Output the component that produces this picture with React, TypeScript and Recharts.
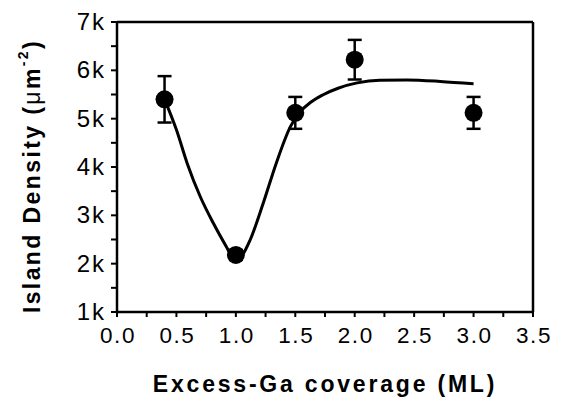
import React from 'react';
import {
  ComposedChart, Line, Scatter, ErrorBar, XAxis, YAxis, Label
} from 'recharts';

// measured points (coverage in ML, density in µm^-2)
const coverage = [0.4, 1.0, 1.5, 2.0, 3.0];
const density = [5400, 2180, 5120, 6220, 5120];
const densityErr = [480, 100, 330, 410, 330];

// fitted guide curve
const fitX = [0.4, 0.5, 0.59, 0.7, 0.81, 0.92, 0.97, 1.0, 1.05, 1.12, 1.23, 1.34, 1.46, 1.54, 1.63, 1.73, 1.86, 2.02, 2.21, 2.44, 2.72, 3.0];
const fitY = [5400, 4770, 4080, 3390, 2840, 2350, 2140, 2080, 2160, 2490, 3250, 4080, 4840, 5140, 5340, 5490, 5630, 5740, 5795, 5800, 5770, 5720];

const xTicks = [0, 0.25, 0.5, 0.75, 1, 1.25, 1.5, 1.75, 2, 2.25, 2.5, 2.75, 3, 3.25, 3.5];
const yTicks = [1000, 1500, 2000, 2500, 3000, 3500, 4000, 4500, 5000, 5500, 6000, 6500, 7000];

const points = coverage.map((x, i) => ({ x, y: density[i], err: densityErr[i] }));
const fit = fitX.map((x, i) => ({ x, y: fitY[i] }));

const FONT = '"Liberation Sans", Arial, Helvetica, sans-serif';

const fmtX = (v: number) => (Math.abs(v * 2 - Math.round(v * 2)) < 1e-6 ? v.toFixed(1) : '');
const fmtY = (v: number) => (v % 1000 === 0 ? `${v / 1000}k` : '');

const XTick = (p: any) => (
  <text x={p.x + 1} y={p.y} dy={16} textAnchor="middle" fontFamily={FONT} fontSize={22.5} letterSpacing={1.6} fill="#000">
    {fmtX(p.payload.value)}
  </text>
);

const YTick = (p: any) => (
  <text x={p.x + 2} y={p.y} dy={8} textAnchor="end" fontFamily={FONT} fontSize={24} letterSpacing={2} fill="#000">
    {fmtY(p.payload.value)}
  </text>
);

const YTitle = (props: any) => {
  const vb = props.viewBox || { x: 0, y: 22, width: 117, height: 290 };
  const cx = vb.x + 32;
  const cy = vb.y + vb.height / 2 + 9;
  return (
    <text
      x={cx}
      y={cy}
      transform={`rotate(-90, ${cx}, ${cy})`}
      textAnchor="middle"
      dominantBaseline="central"
      fontFamily={FONT}
      fontWeight="bold"
      fontSize={23}
      letterSpacing={2.4}
      fill="#000"
    >
      Island Density (<tspan fontWeight="normal">μ</tspan>m
      <tspan dy={-9} fontSize={14}>-2</tspan>
      <tspan dy={9}>)</tspan>
    </text>
  );
};

const Dot = (p: any) => <circle cx={p.cx} cy={p.cy} r={9} fill="#000" />;

export default function App() {
  return (
    <div style={{ width: 561, height: 398, background: '#fff' }}>
      <style>{'body{margin:0}'}</style>
      <ComposedChart width={561} height={398} margin={{ top: 22, right: 28, bottom: 11, left: 0 }}>
        <XAxis
          xAxisId="main"
          dataKey="x"
          type="number"
          domain={[0, 3.5]}
          allowDataOverflow
          ticks={xTicks}
          interval={0}
          height={75}
          tickSize={5}
          tickMargin={10}
          tick={<XTick />}
          stroke="#000"
          axisLine={{ stroke: '#000', strokeWidth: 2.5 }}
          tickLine={{ stroke: '#000', strokeWidth: 2 }}
        >
          <Label
            value="Excess-Ga coverage (ML)"
            position="insideBottom"
            offset={-5}
            style={{ fill: '#000', fontSize: 23, fontWeight: 'bold', fontFamily: FONT, letterSpacing: 2.8 }}
          />
        </XAxis>
        <XAxis
          xAxisId="top"
          orientation="top"
          type="number"
          domain={[0, 3.5]}
          allowDataOverflow
          ticks={xTicks}
          interval={0}
          mirror
          tick={false}
          tickSize={5}
          axisLine={{ stroke: '#000', strokeWidth: 2.5 }}
          tickLine={{ stroke: '#000', strokeWidth: 2 }}
        />
        <YAxis
          yAxisId="main"
          type="number"
          domain={[1000, 7000]}
          allowDataOverflow
          ticks={yTicks}
          interval={0}
          width={117}
          tickSize={6}
          tickMargin={7}
          tick={<YTick />}
          axisLine={{ stroke: '#000', strokeWidth: 2.5 }}
          tickLine={{ stroke: '#000', strokeWidth: 2 }}
        >
          <Label content={<YTitle />} />
        </YAxis>
        <YAxis
          yAxisId="right"
          orientation="right"
          type="number"
          domain={[1000, 7000]}
          allowDataOverflow
          ticks={yTicks}
          interval={0}
          mirror
          tick={false}
          tickSize={5}
          axisLine={{ stroke: '#000', strokeWidth: 2.5 }}
          tickLine={{ stroke: '#000', strokeWidth: 2 }}
        />
        <Line
          xAxisId="main"
          yAxisId="main"
          data={fit}
          dataKey="y"
          type="monotone"
          stroke="#000"
          strokeWidth={3}
          dot={false}
          activeDot={false}
          isAnimationActive={false}
        />
        <Scatter
          xAxisId="main"
          yAxisId="main"
          data={points}
          dataKey="y"
          fill="#000"
          shape={<Dot />}
          isAnimationActive={false}
        >
          <ErrorBar dataKey="err" direction="y" width={7} strokeWidth={2.5} stroke="#000" />
        </Scatter>
      </ComposedChart>
    </div>
  );
}
